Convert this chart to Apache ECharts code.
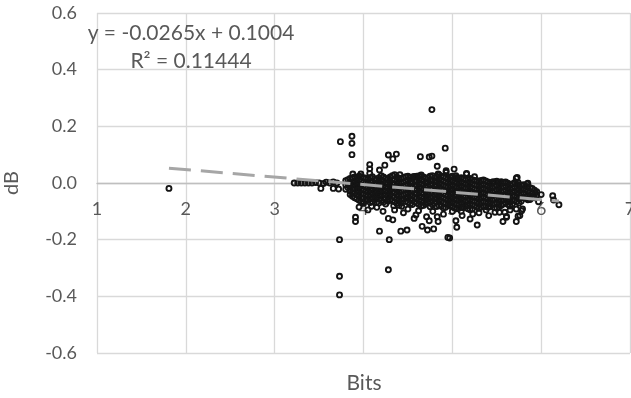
<!DOCTYPE html>
<html>
<head>
<meta charset="utf-8">
<script src="https://cdn.jsdelivr.net/npm/echarts@6/dist/echarts.min.js"></script>
<style>
  html, body { margin: 0; padding: 0; background: #fff; }
  #chart { width: 631px; height: 398px; }
</style>
</head>
<body>
<div id="chart"></div>
<script>
// axis ticks
const xTicks = [1, 2, 3, 4, 5, 6, 7];
const yTicks = [-0.6, -0.4, -0.2, 0.0, 0.2, 0.4, 0.6];

// trendline as printed on the chart
const trendSlope = -0.0265;
const trendIntercept = 0.1004;
const trendRange = [1.81, 6.2];
const r2Value = '0.11444';

// isolated points [bits, dB]
const sparsePoints = [
  [1.81, -0.019],
  [3.22, 0], [3.26, 0], [3.30, 0], [3.34, 0], [3.38, 0], [3.42, 0], [3.46, 0.002], [3.50, 0],
  [3.55, -0.002], [3.58, 0.003], [3.62, 0], [3.66, 0.004], [3.70, 0],
  [3.52, -0.019], [3.66, -0.019], [3.72, -0.021],
  [3.74, 0.146], [3.87, 0.165], [3.87, 0.14], [3.87, 0.10],
  [3.88, 0.032], [3.97, 0.032], [4.07, 0.065], [4.07, 0.05], [4.07, 0.034], [4.18, 0.046],
  [4.24, 0.063], [4.28, 0.099], [4.33, 0.085], [4.37, 0.102],
  [4.41, 0.029], [4.56, 0.022], [4.60, 0.024], [4.63, 0.024], [4.64, 0.093], [4.74, 0.092],
  [4.77, 0.095], [4.77, 0.259], [4.83, 0.059], [4.84, 0.032], [4.92, 0.123], [4.93, 0.038],
  [5.02, 0.049], [5.04, 0.026], [5.16, 0.032], [5.25, 0.022], [5.45, 0.002],
  [5.72, 0.017], [5.74, 0.002], [5.85, -0.001], [6.00, -0.041], [6.13, -0.045], [6.14, -0.06],
  [6.20, -0.077], [5.97, -0.066], [5.93, -0.033], [5.79, -0.092], [5.76, -0.115], [5.61, -0.118],
  [5.59, -0.103],
  [4.00, -0.068], [3.91, -0.121], [3.91, -0.136], [4.18, -0.17], [4.28, -0.125], [4.33, -0.13],
  [4.29, -0.2], [4.42, -0.17], [4.49, -0.166], [3.73, -0.2], [4.28, -0.306], [4.95, -0.192],
  [4.09, -0.082], [4.15, -0.086], [4.43, -0.082], [4.57, -0.125], [4.66, -0.153], [4.72, -0.166],
  [4.79, -0.162], [4.74, -0.133], [4.83, -0.119], [4.84, -0.136], [4.59, -0.113], [4.71, -0.119],
  [4.18, -0.042], [4.50, -0.092], [4.34, -0.08],
  [3.73, -0.329], [3.73, -0.395],
  [4.97, -0.194], [5.05, -0.156], [5.04, -0.133], [5.28, -0.148], [5.57, -0.136], [5.61, -0.121],
  [5.72, -0.136], [5.74, -0.117], [5.41, -0.115], [5.48, -0.103], [5.53, -0.103], [5.20, -0.127],
  [5.23, -0.109], [5.11, -0.115], [5.78, -0.098], [5.72, -0.092],
  [5.16, 0.034], [5.46, 0.005], [5.55, 0.005], [5.73, 0.02], [5.84, -0.004], [5.05, 0.02], [4.93, 0.043],
  [4.35, -0.095], [4.45, -0.105], [4.62, -0.098], [4.78, -0.1], [4.90, -0.11], [5.00, -0.1],
  [5.10, -0.1], [5.30, -0.105], [5.38, -0.095], [5.65, -0.095], [4.05, -0.095], [4.22, -0.1],
  [3.95, -0.085]
];

// dense core, one column of dB values per bits value
const denseBits = [
  3.80, 3.85, 3.90, 3.95, 4.00, 4.05, 4.10, 4.15, 4.20, 4.25, 4.30, 4.35, 4.40, 4.45, 4.50,
  4.55, 4.60, 4.65, 4.70, 4.75, 4.80, 4.85, 4.90, 4.95, 5.00, 5.05, 5.10, 5.15, 5.20, 5.25,
  5.30, 5.35, 5.40, 5.45, 5.50, 5.55, 5.60, 5.65, 5.70, 5.75, 5.80, 5.85, 5.90, 5.95
];
const denseDb = [
  [0.008, -0.006, -0.022],
  [0.016, 0.002, -0.012, -0.027, -0.041],
  [0.021, 0.006, -0.009, -0.021, -0.036, -0.052],
  [0.024, 0.011, -0.004, -0.018, -0.031, -0.046, -0.061],
  [0.019, 0.004, -0.011, -0.026, -0.039, -0.054, -0.072],
  [0.014, 0.001, -0.016, -0.029, -0.044, -0.058],
  [0.022, 0.006, -0.008, -0.021, -0.036, -0.051, -0.066],
  [0.011, -0.004, -0.019, -0.034, -0.049, -0.068],
  [0.026, 0.012, -0.003, -0.016, -0.031, -0.044, -0.061],
  [0.016, 0.001, -0.014, -0.028, -0.041, -0.056, -0.074],
  [0.021, 0.006, -0.009, -0.024, -0.039, -0.059],
  [0.029, 0.011, -0.004, -0.019, -0.034, -0.051, -0.066],
  [0.014, 0.001, -0.016, -0.031, -0.046, -0.061, -0.079],
  [0.019, 0.004, -0.011, -0.026, -0.041, -0.056],
  [0.024, 0.009, -0.006, -0.021, -0.036, -0.049, -0.069],
  [0.016, 0.001, -0.014, -0.029, -0.044, -0.061, -0.076],
  [0.021, 0.006, -0.009, -0.024, -0.039, -0.054, -0.071],
  [0.028, 0.011, -0.004, -0.019, -0.034, -0.049, -0.064, -0.081],
  [0.016, 0.001, -0.014, -0.029, -0.046, -0.059, -0.074],
  [0.024, 0.009, -0.006, -0.021, -0.036, -0.051, -0.066, -0.084],
  [0.019, 0.004, -0.011, -0.026, -0.041, -0.056, -0.071],
  [0.029, 0.014, -0.001, -0.016, -0.031, -0.044, -0.059, -0.079],
  [0.021, 0.006, -0.009, -0.024, -0.039, -0.054, -0.069, -0.088],
  [0.016, 0.001, -0.014, -0.029, -0.044, -0.061, -0.076],
  [0.024, 0.009, -0.006, -0.021, -0.034, -0.049, -0.066, -0.084],
  [0.014, -0.001, -0.016, -0.031, -0.046, -0.061, -0.074, -0.091],
  [0.019, 0.004, -0.011, -0.026, -0.041, -0.056, -0.069, -0.086],
  [0.011, -0.004, -0.019, -0.034, -0.049, -0.066, -0.081],
  [0.016, 0.001, -0.014, -0.029, -0.044, -0.059, -0.076, -0.094],
  [0.009, -0.006, -0.021, -0.036, -0.051, -0.064, -0.079],
  [0.006, -0.009, -0.024, -0.039, -0.054, -0.071, -0.089],
  [0.011, -0.004, -0.019, -0.034, -0.049, -0.066, -0.081],
  [0.004, -0.011, -0.026, -0.041, -0.056, -0.069, -0.086],
  [-0.001, -0.016, -0.031, -0.044, -0.059, -0.076],
  [0.006, -0.009, -0.024, -0.039, -0.054, -0.071, -0.089],
  [-0.001, -0.014, -0.029, -0.046, -0.061, -0.079],
  [0.004, -0.011, -0.026, -0.041, -0.056, -0.069],
  [-0.006, -0.021, -0.036, -0.049, -0.064, -0.081],
  [0.001, -0.014, -0.029, -0.044, -0.061],
  [-0.009, -0.024, -0.039, -0.056, -0.071],
  [-0.006, -0.021, -0.034, -0.051],
  [-0.014, -0.029, -0.046, -0.059],
  [-0.019, -0.036, -0.051],
  [-0.031, -0.044]
];

// second interleaved set of dense columns
const denseBits2 = [
  3.825, 3.875, 3.925, 3.975, 4.025, 4.075, 4.125, 4.175, 4.225, 4.275, 4.325, 4.375, 4.425,
  4.475, 4.525, 4.575, 4.625, 4.675, 4.725, 4.775, 4.825, 4.875, 4.925, 4.975, 5.025, 5.075,
  5.125, 5.175, 5.225, 5.275, 5.325, 5.375, 5.425, 5.475, 5.525, 5.575, 5.625, 5.675, 5.725,
  5.775, 5.825, 5.875, 5.925
];
const denseDb2 = [
  [0.012, -0.003, -0.016],
  [0.018, 0.004, -0.005, -0.019, -0.034, -0.047],
  [0.015, 0.001, -0.013, -0.027, -0.041, -0.056],
  [0.022, 0.007, -0.008, -0.023, -0.038, -0.053, -0.066],
  [0.017, 0.002, -0.013, -0.028, -0.043, -0.062],
  [0.019, 0.004, -0.011, -0.026, -0.041, -0.056, -0.069],
  [0.015, 0.000, -0.015, -0.029, -0.043, -0.058],
  [0.019, 0.005, -0.011, -0.026, -0.041, -0.056, -0.071],
  [0.021, 0.006, -0.009, -0.024, -0.038, -0.052, -0.067],
  [0.013, -0.002, -0.017, -0.032, -0.048, -0.064],
  [0.026, 0.012, -0.002, -0.016, -0.031, -0.046, -0.063],
  [0.021, 0.006, -0.011, -0.026, -0.041, -0.057, -0.072],
  [0.017, 0.002, -0.013, -0.028, -0.043, -0.058, -0.071],
  [0.022, 0.007, -0.008, -0.023, -0.038, -0.053, -0.064],
  [0.019, 0.004, -0.011, -0.026, -0.041, -0.056, -0.073],
  [0.023, 0.008, -0.007, -0.021, -0.036, -0.051, -0.067],
  [0.025, 0.013, -0.002, -0.016, -0.031, -0.046, -0.061, -0.076],
  [0.021, 0.007, -0.008, -0.023, -0.038, -0.053, -0.068, -0.079],
  [0.019, 0.004, -0.011, -0.026, -0.041, -0.054, -0.069],
  [0.026, 0.011, -0.003, -0.018, -0.033, -0.048, -0.063, -0.077],
  [0.023, 0.008, -0.006, -0.021, -0.036, -0.051, -0.066, -0.083],
  [0.024, 0.010, -0.005, -0.020, -0.035, -0.050, -0.064, -0.082],
  [0.019, 0.003, -0.012, -0.027, -0.042, -0.057, -0.072, -0.086],
  [0.021, 0.005, -0.010, -0.025, -0.040, -0.055, -0.070, -0.081],
  [0.018, 0.003, -0.012, -0.027, -0.042, -0.056, -0.071, -0.088],
  [0.016, 0.002, -0.013, -0.028, -0.043, -0.058, -0.073, -0.089],
  [0.014, -0.001, -0.016, -0.031, -0.045, -0.061, -0.076, -0.087],
  [0.013, -0.002, -0.017, -0.031, -0.046, -0.062, -0.079, -0.091],
  [0.012, -0.003, -0.018, -0.033, -0.048, -0.063, -0.078, -0.092],
  [0.008, -0.007, -0.022, -0.037, -0.052, -0.068, -0.084],
  [0.009, -0.006, -0.021, -0.036, -0.051, -0.067, -0.085],
  [0.007, -0.008, -0.023, -0.038, -0.053, -0.068, -0.083],
  [0.002, -0.013, -0.028, -0.042, -0.057, -0.072, -0.084],
  [0.003, -0.012, -0.027, -0.042, -0.057, -0.073, -0.087],
  [0.002, -0.012, -0.027, -0.042, -0.057, -0.074, -0.085],
  [0.001, -0.013, -0.028, -0.043, -0.058, -0.074],
  [-0.001, -0.016, -0.031, -0.046, -0.061, -0.076],
  [-0.003, -0.018, -0.032, -0.047, -0.062, -0.074],
  [-0.004, -0.019, -0.034, -0.049, -0.066],
  [-0.008, -0.023, -0.037, -0.053, -0.064],
  [-0.011, -0.025, -0.040, -0.055],
  [-0.017, -0.032, -0.047, -0.058],
  [-0.025, -0.040, -0.052]
];

const FONT = 'Lato, "Noto Sans", sans-serif';
const TEXT_GRAY = '#595959';

const densePoints = [];
denseBits.forEach((b, i) => {
  denseDb[i].forEach(v => densePoints.push([b, v]));
});
denseBits2.forEach((b, i) => {
  denseDb2[i].forEach(v => densePoints.push([b, v]));
});
const allPoints = sparsePoints.concat(densePoints);

const trendPoints = trendRange.map(x => [x, trendSlope * x + trendIntercept]);

// plot box; the x axis (line and labels) is lifted from the bottom edge to dB = 0
const gridBox = { left: 97, right: 1, top: 13, bottom: 45 };
const plotHeight = 398 - gridBox.top - gridBox.bottom;
const yMin = yTicks[0];
const yMax = yTicks[yTicks.length - 1];
const zeroOffset = -plotHeight * (0 - yMin) / (yMax - yMin);

const chart = echarts.init(document.getElementById('chart'), null, { renderer: 'canvas' });

chart.setOption({
  animation: false,
  backgroundColor: '#fff',
  grid: Object.assign({ outerBoundsMode: 'none', containLabel: false }, gridBox),
  xAxis: {
    type: 'value',
    position: 'bottom',
    offset: zeroOffset,
    min: xTicks[0],
    max: xTicks[xTicks.length - 1],
    interval: 1,
    axisLine: { show: true, onZero: false, lineStyle: { color: '#bfbfbf', width: 1.3 } },
    axisTick: { show: false },
    axisLabel: { color: TEXT_GRAY, fontSize: 18, fontFamily: FONT, margin: 17 },
    splitLine: { show: true, lineStyle: { color: '#d9d9d9', width: 1.3 } }
  },
  yAxis: {
    type: 'value',
    min: yMin,
    max: yMax,
    interval: 0.2,
    axisLine: { show: false },
    axisTick: { show: false },
    axisLabel: {
      color: TEXT_GRAY, fontSize: 18, fontFamily: FONT, margin: 20,
      formatter: v => v.toFixed(1)
    },
    splitLine: { show: true, lineStyle: { color: '#d9d9d9', width: 1.3 } },
    name: 'dB',
    nameLocation: 'middle',
    nameGap: 75,
    nameTextStyle: { color: TEXT_GRAY, fontSize: 20, fontFamily: FONT }
  },
  series: [
    {
      type: 'scatter',
      data: allPoints,
      symbol: 'circle',
      symbolSize: 5,
      itemStyle: { color: 'rgba(0,0,0,0)', borderColor: '#141414', borderWidth: 1.9, opacity: 1 },
      z: 2
    },
    {
      type: 'line',
      data: trendPoints,
      showSymbol: false,
      lineStyle: { color: '#a6a6a6', width: 3, type: [22, 10] },
      z: 3
    }
  ],
  graphic: [
    {
      type: 'text',
      x: 191,
      y: 19,
      style: {
        text: 'y = ' + trendSlope + 'x + ' + trendIntercept + '\nR\u00b2 = ' + r2Value,
        textAlign: 'center',
        textVerticalAlign: 'top',
        lineHeight: 28,
        fontSize: 21,
        fontFamily: FONT,
        fill: TEXT_GRAY
      },
      z: 10
    },
    {
      // x axis title stays under the plot
      type: 'text',
      x: 364,
      y: 383,
      style: {
        text: 'Bits',
        textAlign: 'center',
        textVerticalAlign: 'middle',
        fontSize: 21,
        fontFamily: FONT,
        fill: TEXT_GRAY
      }
    }
  ]
});
</script>
</body>
</html>
